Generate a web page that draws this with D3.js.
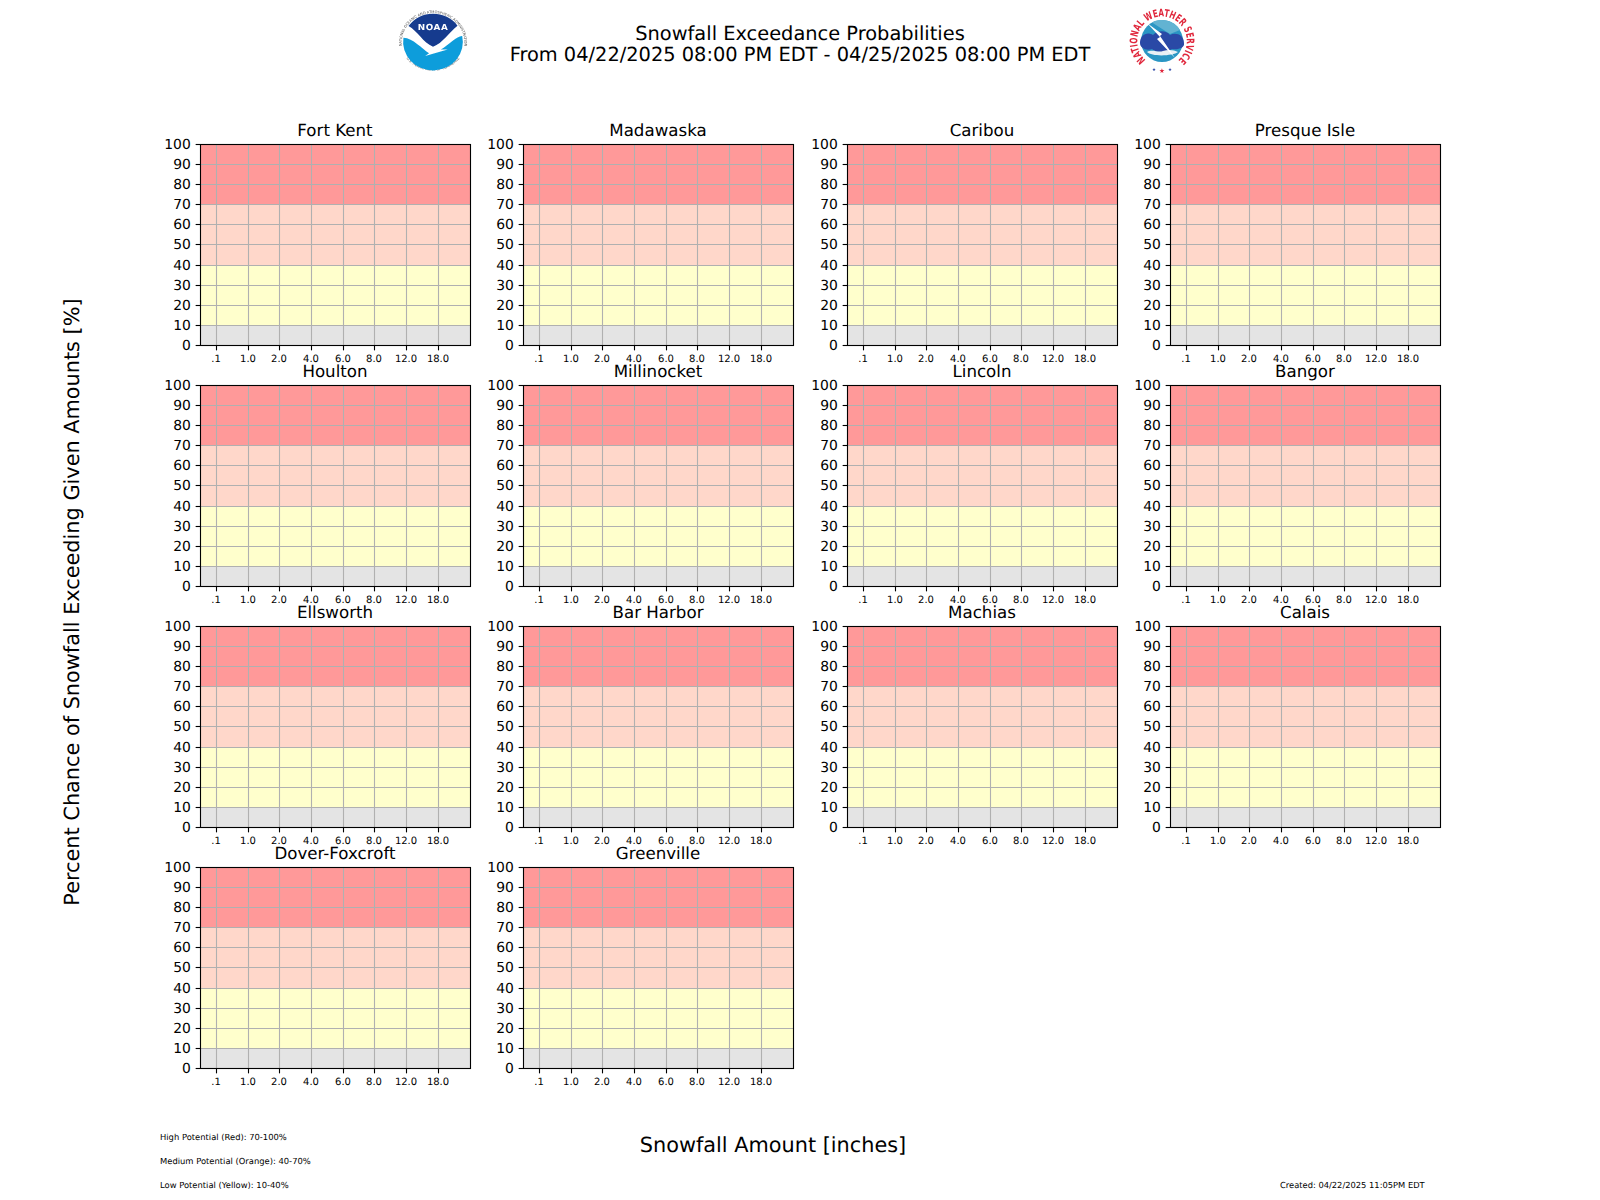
<!DOCTYPE html>
<html>
<head>
<meta charset="utf-8">
<title>Snowfall Exceedance Probabilities</title>
<script src="https://cdn.jsdelivr.net/npm/d3@7"></script>
<style>
  html, body { margin: 0; padding: 0; background: #fff; }
  svg { display: block; }
  text { font-family: "DejaVu Sans", sans-serif; fill: #000; text-rendering: geometricPrecision; }
  .domain { display: none; }
  .tick line { stroke: #000; stroke-width: 1.11; }
</style>
</head>
<body>
<div id="chart"></div>
<script>
const stations = ["Fort Kent", "Madawaska", "Caribou", "Presque Isle",
  "Houlton", "Millinocket", "Lincoln", "Bangor",
  "Ellsworth", "Bar Harbor", "Machias", "Calais",
  "Dover-Foxcroft", "Greenville"];
const amountLabels = [".1", "1.0", "2.0", "4.0", "6.0", "8.0", "12.0", "18.0"];
const percentTicks = [0, 10, 20, 30, 40, 50, 60, 70, 80, 90, 100];
const bandStart = [0, 10, 40, 70];
const bandEnd = [10, 40, 70, 100];
const bandColor = ["#e4e4e4", "#ffffcc", "#ffd7ca", "#ff9999"];
const titleLines = ["Snowfall Exceedance Probabilities", "From 04/22/2025 08:00 PM EDT - 04/25/2025 08:00 PM EDT"];
const legendLines = ["High Potential (Red): 70-100%", "Medium Potential (Orange): 40-70%", "Low Potential (Yellow): 10-40%"];

const width = 1600, height = 1200;
const left = 200, top0 = 144, panelW = 269.57, panelH = 200.87, stepX = 323.48, stepY = 241.04;

const svg = d3.select("#chart").append("svg")
  .attr("width", width)
  .attr("height", height);

const defs = svg.append("defs");
defs.append("filter").attr("id", "soft")
  .append("feGaussianBlur").attr("stdDeviation", 0.45);

// rounded so the grid lands on whole pixels, same as the original
const x = d3.scaleLinear().domain([-0.5, 8]).range([0, panelW]).interpolate(d3.interpolateRound);
const y = d3.scaleLinear().domain([0, 100]).range([panelH, 0]).interpolate(d3.interpolateRound);
const frameW = x(8) - x(-0.5), frameH = y(0) - y(100);

stations.forEach((name, i) => {
  const px = Math.round(left + (i % 4) * stepX) + 0.5;
  const py = Math.round(top0 + Math.floor(i / 4) * stepY) + 0.5;
  const g = svg.append("g").attr("transform", `translate(${px},${py})`);

  // risk bands
  g.selectAll("rect.band")
    .data(bandStart)
    .enter().append("rect")
      .attr("class", "band")
      .attr("x", 0)
      .attr("width", frameW)
      .attr("y", (d, k) => y(bandEnd[k]))
      .attr("height", (d, k) => y(d) - y(bandEnd[k]))
      .attr("fill", (d, k) => bandColor[k]);

  // grid
  g.selectAll("line.gy")
    .data(percentTicks)
    .enter().append("line")
      .attr("class", "gy")
      .attr("x1", 0).attr("x2", frameW)
      .attr("y1", d => y(d)).attr("y2", d => y(d))
      .attr("stroke", "#b0b0b0").attr("stroke-width", 1.11);
  g.selectAll("line.gx")
    .data(amountLabels)
    .enter().append("line")
      .attr("class", "gx")
      .attr("x1", (d, k) => x(k)).attr("x2", (d, k) => x(k))
      .attr("y1", 0).attr("y2", frameH)
      .attr("stroke", "#b0b0b0").attr("stroke-width", 1.11);

  // frame
  g.append("rect")
    .attr("width", frameW)
    .attr("height", frameH)
    .attr("fill", "none")
    .attr("stroke", "#000")
    .attr("stroke-width", 1.11);

  const yAxis = d3.axisLeft(y).tickValues(percentTicks).tickSize(4.86).tickPadding(4.86).offset(0);
  g.append("g").call(yAxis)
    .selectAll("text")
      .attr("dy", "0.34em")
      .style("font-size", "13.89px").style("font-family", "DejaVu Sans");

  const xAxis = d3.axisBottom(x)
    .tickValues(amountLabels.map((d, k) => k))
    .tickFormat(k => amountLabels[k])
    .tickSize(4.86).tickPadding(4.6).offset(0);
  g.append("g").attr("transform", `translate(0,${frameH})`).call(xAxis)
    .selectAll("text")
      .attr("dx", -0.5)
      .style("font-size", "10px").style("font-family", "DejaVu Sans");

  g.append("text")
    .attr("x", frameW / 2 - 0.5)
    .attr("y", -8.33)
    .attr("text-anchor", "middle")
    .style("font-size", "16.67px")
    .text(name);
});

// figure title
svg.selectAll("text.title")
  .data(titleLines)
  .enter().append("text")
    .attr("class", "title")
    .attr("x", 800)
    .attr("y", (d, i) => 39.5 + i * 21.5)
    .attr("text-anchor", "middle")
    .style("font-size", "19.4px")
    .text(d => d);

svg.append("text")
  .attr("transform", "translate(79,602) rotate(-90)")
  .attr("text-anchor", "middle")
  .style("font-size", "20.83px")
  .text("Percent Chance of Snowfall Exceeding Given Amounts [%]");

svg.append("text")
  .attr("x", 773)
  .attr("y", 1152)
  .attr("text-anchor", "middle")
  .style("font-size", "20.83px")
  .text("Snowfall Amount [inches]");

svg.selectAll("text.legend")
  .data(legendLines)
  .enter().append("text")
    .attr("class", "legend")
    .attr("x", 160)
    .attr("y", (d, i) => 1140 + i * 24)
    .style("font-size", "8.38px")
    .text(d => d);

svg.append("text")
  .attr("x", 1280)
  .attr("y", 1188)
  .style("font-size", "8.33px")
  .text("Created: 04/22/2025 11:05PM EDT");

// NOAA logo
const noaa = svg.append("g").attr("transform", "translate(433,42) scale(0.98,0.934)").attr("filter", "url(#soft)");
defs.append("path").attr("id", "noaaTop").attr("d", "M-31,9 A32,32 0 1 1 31,9");
defs.append("path").attr("id", "noaaBottom").attr("d", "M-27,18 A35,35 0 0 0 27,18");
noaa.append("text").style("font-size", "3.7px").style("fill", "#555")
  .append("textPath").attr("href", "#noaaTop").attr("startOffset", "50%").attr("text-anchor", "middle")
  .text("NATIONAL OCEANIC AND ATMOSPHERIC ADMINISTRATION");
noaa.append("text").style("font-size", "3.7px").style("fill", "#555")
  .append("textPath").attr("href", "#noaaBottom").attr("startOffset", "50%").attr("text-anchor", "middle")
  .text("U.S. DEPARTMENT OF COMMERCE");
noaa.append("path").attr("d", "M-25,-17 A30.5,30.5 0 0 1 25,-17.5 C16,-10 10,1 0,5 C-10,1 -16,-12 -25,-17 Z").attr("fill", "#123a8e");
noaa.append("path").attr("d", "M-30.2,-4.5 C-20,-4 -12,7 -4,12 L-8,15 L15,8 L8,8 C16,3 25,-7 29.8,-6.5 A30.5,30.5 0 1 1 -30.2,-4.5 Z").attr("fill", "#0f9ddb");
noaa.append("text").attr("y", -13).attr("text-anchor", "middle")
  .style("font-size", "9px").style("font-weight", "bold").style("fill", "#fff").style("letter-spacing", "0.6px").text("NOAA");

// NWS logo
const nws = svg.append("g").attr("transform", "translate(1162,41)").attr("filter", "url(#soft)");
defs.append("path").attr("id", "nwsRing").attr("d", "M-15,20 A24.8,24.8 0 1 1 15,20");
nws.append("text").style("font-size", "10.5px").style("font-weight", "bold").style("fill", "#e0283c")
  .append("textPath").attr("href", "#nwsRing").attr("startOffset", "50%").attr("text-anchor", "middle")
  .attr("textLength", 120).attr("lengthAdjust", "spacingAndGlyphs")
  .text("NATIONAL WEATHER SERVICE");
nws.append("circle").attr("r", 21).attr("fill", "#2a96c4");
nws.append("path").attr("d", "M-10,-18.5 A21,21 0 0 1 18,-11 L8,-7 Z").attr("fill", "#62b3d2");
nws.append("path").attr("d", "M-22,2 C-22,-6 -15,-10 -9,-6 C-4,-11 4,-11 8,-6 C14,-9 22,-6 22,2 C23,7 16,9 10,8 C4,12 -6,12 -10,8 C-16,10 -22,7 -22,2 Z").attr("fill", "#2c48a6");
nws.append("path").attr("d", "M-15,11 C-9,8 -4,12 1,10 C7,8 12,9 16,11 C11,15 -10,16 -15,11 Z").attr("fill", "#e8f0f5");
nws.append("path").attr("d", "M-15,-18 L0,-7 L-2,-5 L13,17 L-5,-2 L-2,-4 Z").attr("fill", "#fff");
nws.append("text").attr("y", 32).attr("text-anchor", "middle").style("font-size", "6.5px").style("fill", "#e0283c").text("★");
nws.append("text").attr("x", -8).attr("y", 30).attr("text-anchor", "middle").style("font-size", "4.5px").style("fill", "#2c48a6").text("★");
nws.append("text").attr("x", 8).attr("y", 30).attr("text-anchor", "middle").style("font-size", "4.5px").style("fill", "#2c48a6").text("★");
</script>
</body>
</html>
